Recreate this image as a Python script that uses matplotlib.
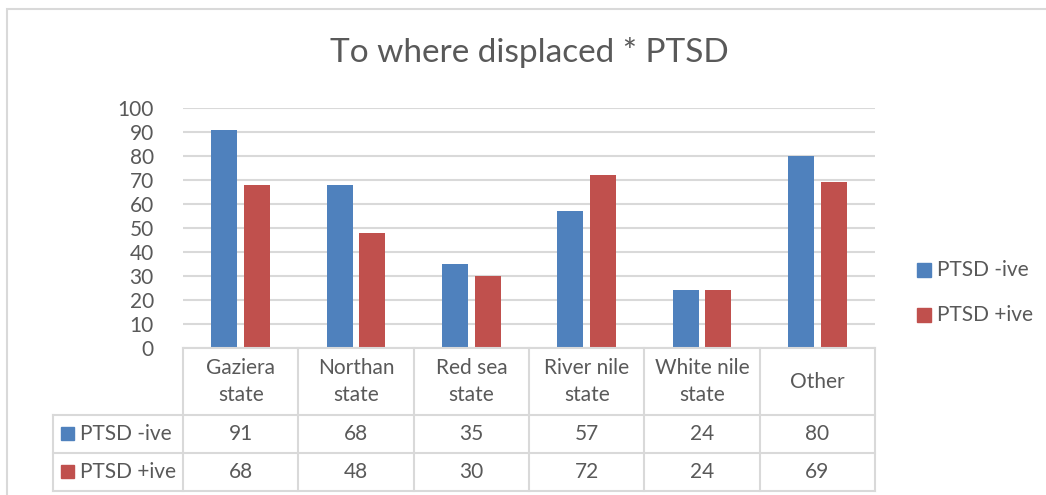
import matplotlib.pyplot as plt
from matplotlib.patches import Rectangle
import numpy as np

plt.rcParams['font.family'] = ['Lato', 'DejaVu Sans']

# Chart data
categories = ['Gaziera\nstate', 'Northan\nstate', 'Red sea\nstate',
              'River nile\nstate', 'White nile\nstate', 'Other']
series_names = ['PTSD -ive', 'PTSD +ive']
ptsd_neg = [91, 68, 35, 57, 24, 80]
ptsd_pos = [68, 48, 30, 72, 24, 69]
y_ticks = [0, 10, 20, 30, 40, 50, 60, 70, 80, 90, 100]

BLUE = '#4F81BD'
RED = '#C0504D'
TEXT = '#595959'
GRID = '#D9D9D9'
FS = 15

W, H = 1046, 495
fig = plt.figure(figsize=(W / 100, H / 100), dpi=100)

# outer chart frame (runs past the right and bottom edges)
fig.add_artist(Rectangle((7 / W, -0.1), 1.2, (H - 9) / H + 0.1,
                         transform=fig.transFigure, fill=False,
                         edgecolor=GRID, linewidth=1.5))

# plot area in pixel terms
left, right, y0, y100 = 183, 875, 348, 108
ax = fig.add_axes([left / W, (H - y0) / H, (right - left) / W, (y0 - y100) / H])

x = np.arange(len(categories))
bw = 0.225
off = bw / 2 + 0.03
ax.bar(x - off, ptsd_neg, bw, color=BLUE, label=series_names[0], zorder=3)
ax.bar(x + off, ptsd_pos, bw, color=RED, label=series_names[1], zorder=3)

ax.set_xlim(-0.5, len(categories) - 0.5)
ax.set_ylim(0, 100)
ax.set_yticks(y_ticks)
ax.set_yticklabels([str(t) for t in y_ticks], fontsize=FS, color=TEXT)
ax.tick_params(axis='y', length=0, pad=21)
ax.set_xticks([])
ax.grid(axis='y', color=GRID, linewidth=1.5, zorder=0)
for s in ax.spines.values():
    s.set_visible(False)

ax.set_title('To where displaced * PTSD', fontsize=24, color=TEXT, pad=0,
             y=1 + 46 / 240)

# data table below the axis, in data units
px = 100 / 240  # data units per pixel in y
row_tops = [0, -67 * px, -105 * px, -143 * px]
label_left = -0.5 - 130 / 115.3
line_kw = dict(color=GRID, linewidth=1.5, clip_on=False, zorder=4)

# horizontal rules
ax.plot([-0.5, 5.5], [row_tops[0]] * 2, **line_kw)
for yy in row_tops[1:]:
    ax.plot([label_left, 5.5], [yy] * 2, **line_kw)
# vertical rules
for xx in np.arange(-0.5, 6.0, 1.0):
    ax.plot([xx, xx], [row_tops[0], row_tops[-1]], **line_kw)
ax.plot([label_left, label_left], [row_tops[1], row_tops[-1]], **line_kw)

# category headers
for i, c in enumerate(categories):
    ax.text(i, (row_tops[0] + row_tops[1]) / 2, c, ha='center', va='center',
            fontsize=FS, color=TEXT, linespacing=1.45, clip_on=False)

# value rows with legend keys
for r, (name, vals, col) in enumerate(zip(series_names, [ptsd_neg, ptsd_pos], [BLUE, RED])):
    ymid = (row_tops[r + 1] + row_tops[r + 2]) / 2
    ax.add_patch(Rectangle((label_left + 8 / 115.3, ymid - 6 * px), 13 / 115.3, 13 * px,
                           color=col, clip_on=False))
    ax.text(label_left + 27 / 115.3, ymid, name, ha='left', va='center',
            fontsize=FS, color=TEXT, clip_on=False)
    for i, v in enumerate(vals):
        ax.text(i, ymid, str(v), ha='center', va='center', fontsize=FS,
                color=TEXT, clip_on=False)

# legend on the right
for k, (name, col) in enumerate(zip(series_names, [BLUE, RED])):
    yc = 270 + 45 * k
    fig.add_artist(Rectangle((917 / W, (H - yc - 7) / H), 14 / W, 14 / H,
                             transform=fig.transFigure, color=col))
    fig.text(937 / W, (H - yc) / H, name, ha='left', va='center',
             fontsize=FS, color=TEXT)

fig.savefig('out.png', dpi=100)
